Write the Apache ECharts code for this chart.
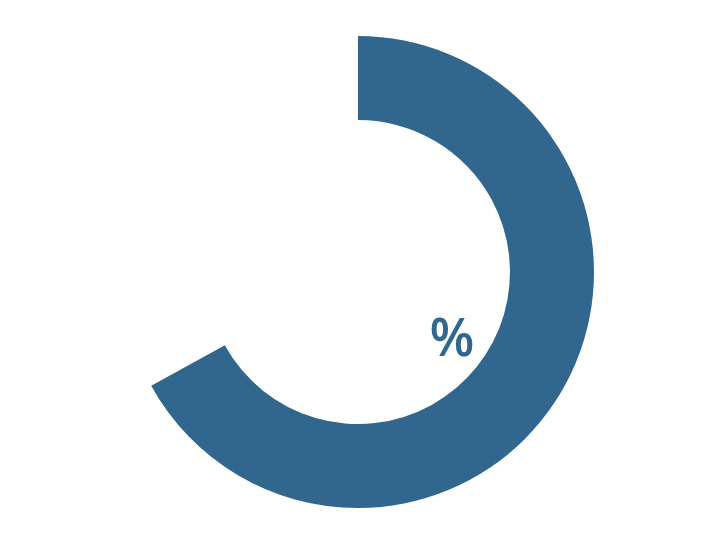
<!DOCTYPE html>
<html>
<head>
<meta charset="utf-8">
<script src="https://cdn.jsdelivr.net/npm/echarts@6/dist/echarts.min.js"></script>
<style>
  html, body { margin: 0; padding: 0; background: #fff; }
  #chart { width: 717px; height: 547px; }
</style>
</head>
<body>
<div id="chart"></div>
<script>
'use strict';
var sliceNames = ['complete', 'rest'],
		sliceValues = [67, 33],
		labelText = '%';

var chart = echarts.init(document.getElementById('chart'));

var option = {
	animation: false,
	series: [
		{
			type: 'pie',
			center: [358, 272],
			radius: [152, 236],
			startAngle: 90,
			clockwise: true,
			silent: true,
			label: { show: false },
			labelLine: { show: false },
			data: [
				{
					name: sliceNames[0],
					value: sliceValues[0],
					itemStyle: { color: '#31678f' }
				},
				{
					name: sliceNames[1],
					value: sliceValues[1],
					itemStyle: { color: 'rgba(0,0,0,0)' }
				}
			]
		}
	],
	graphic: [
		{
			type: 'text',
			x: 452,
			y: 341,
			style: {
				text: labelText,
				fill: '#31678f',
				font: '600 52px "Open Sans"',
				align: 'center',
				verticalAlign: 'middle'
			}
		}
	]
};

chart.setOption(option);
</script>
</body>
</html>
